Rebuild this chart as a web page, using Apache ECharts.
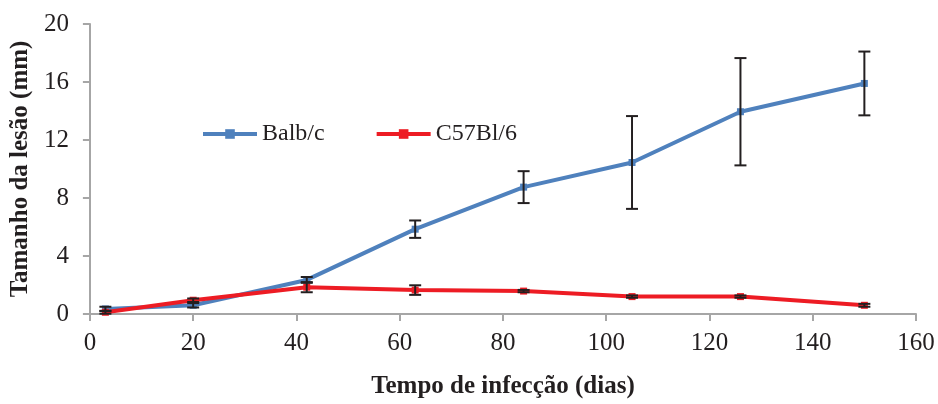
<!DOCTYPE html>
<html><head><meta charset="utf-8">
<script src="https://cdn.jsdelivr.net/npm/echarts@6/dist/echarts.min.js"></script>
<style>html,body{margin:0;padding:0;background:#fff}#c{width:938px;height:404px}</style>
</head><body><div id="c"></div>
<script>
var days = [3, 20, 42, 63, 84, 105, 126, 150];
var balbMean = [0.35, 0.6, 2.35, 5.85, 8.75, 10.45, 13.95, 15.9];
var balbErr = [0.15, 0.15, 0.2, 0.6, 1.1, 3.2, 3.7, 2.2];
var c57Mean = [0.12, 0.95, 1.85, 1.65, 1.58, 1.2, 1.2, 0.6];
var c57Err = [0.1, 0.12, 0.35, 0.33, 0.08, 0.08, 0.08, 0.1];
var xTicks = [0, 20, 40, 60, 80, 100, 120, 140, 160];
var yTicks = [0, 4, 8, 12, 16, 20];

var font = '"Liberation Serif", "DejaVu Serif", serif';
function pts(m){ return days.map(function(d,i){ return [d, m[i]]; }); }
function errData(m,e){ return days.map(function(d,i){ return [d, m[i]-e[i], m[i]+e[i]]; }); }
function errRender(params, api){
  var x = api.value(0);
  var lo = api.coord([x, api.value(1)]);
  var hi = api.coord([x, api.value(2)]);
  var w = 6;
  var st = {stroke:'#231f20', lineWidth:2, fill:null};
  return {type:'group', children:[
    {type:'line', shape:{x1:lo[0],y1:lo[1],x2:hi[0],y2:hi[1]}, style:st},
    {type:'line', shape:{x1:lo[0]-w,y1:lo[1],x2:lo[0]+w,y2:lo[1]}, style:st},
    {type:'line', shape:{x1:hi[0]-w,y1:hi[1],x2:hi[0]+w,y2:hi[1]}, style:st}
  ]};
}
var chart = echarts.init(document.getElementById('c'));
chart.setOption({
  animation:false,
  backgroundColor:'#fff',
  grid:{left:86, right:22, top:24, bottom:88},
  legend:{
    left:196, top:117, itemWidth:54, itemHeight:12, itemGap:50,
    data:['Balb/c','C57Bl/6'],
    lineStyle:{width:4},
    textStyle:{fontFamily:font, fontSize:24, color:'#231f20'}
  },
  xAxis:{
    type:'value', min:0, max:160, interval:20,
    name:'Tempo de infecção (dias)', nameLocation:'middle', nameGap:60,
    nameTextStyle:{fontFamily:font, fontSize:25, fontWeight:'bold', color:'#231f20'},
    axisLine:{show:true, lineStyle:{color:'#a6a6a6', width:2}},
    axisTick:{show:true, length:7, lineStyle:{color:'#a6a6a6', width:2}},
    axisLabel:{fontFamily:font, fontSize:25, color:'#231f20', margin:17},
    splitLine:{show:false}
  },
  yAxis:{
    type:'value', min:0, max:20, interval:4,
    name:'Tamanho da lesão (mm)', nameLocation:'middle', nameGap:50,
    nameTextStyle:{fontFamily:font, fontSize:25, fontWeight:'bold', color:'#231f20'},
    axisLine:{show:true, lineStyle:{color:'#a6a6a6', width:2}},
    axisTick:{show:true, length:7, lineStyle:{color:'#a6a6a6', width:2}},
    axisLabel:{fontFamily:font, fontSize:25, color:'#231f20', margin:21},
    splitLine:{show:false}
  },
  series:[
    {name:'Balb/c', type:'line', data:pts(balbMean), symbol:'rect', symbolSize:7,
     itemStyle:{color:'#4f81bd'}, lineStyle:{color:'#4f81bd', width:4}, z:2},
    {name:'C57Bl/6', type:'line', data:pts(c57Mean), symbol:'rect', symbolSize:7,
     itemStyle:{color:'#ed1c24'}, lineStyle:{color:'#ed1c24', width:4}, z:3},
    {type:'custom', renderItem:errRender, data:errData(balbMean,balbErr), encode:{x:0,y:[1,2]}, z:5, silent:true},
    {type:'custom', renderItem:errRender, data:errData(c57Mean,c57Err), encode:{x:0,y:[1,2]}, z:5, silent:true}
  ]
});
</script></body></html>
